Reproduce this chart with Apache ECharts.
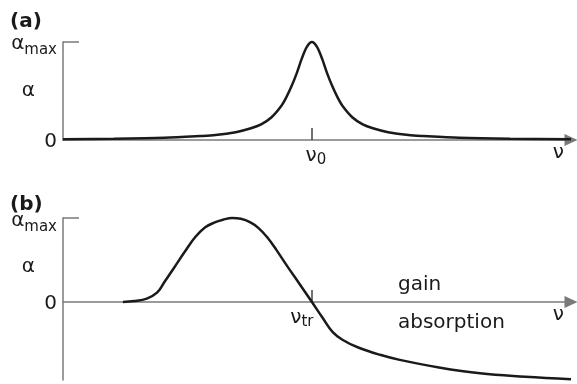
<!DOCTYPE html>
<html><head><meta charset="utf-8">
<script src="https://cdn.jsdelivr.net/npm/echarts@6/dist/echarts.min.js"></script>
<style>html,body{margin:0;padding:0;background:#fff}#c{width:577px;height:384px}</style>
</head><body><div id="c"></div>
<script>
// Panel (a): absorption line around nu0 (frequency in arbitrary units 0..100, alpha normalised to alpha_max)
const xA = [0, 10, 20, 27, 30, 34, 37, 39, 41, 43, 44, 45, 46, 47, 48, 49, 50, 51, 52, 53, 54, 55, 57, 59, 61, 64, 68, 71, 78, 88, 100];
const yA = [0.008, 0.013, 0.023, 0.04, 0.05, 0.08, 0.12, 0.16, 0.23, 0.35, 0.44, 0.55, 0.68, 0.83, 0.95, 1.0, 0.95, 0.83, 0.68, 0.55, 0.44, 0.35, 0.23, 0.16, 0.12, 0.08, 0.05, 0.04, 0.023, 0.013, 0.008];
// Panel (b): gain / absorption curve crossing zero at nu_tr
const xB = [11.8, 14, 16.5, 18.5, 20, 22, 24, 26, 28, 30, 31.5, 33.3, 35, 36.8, 38.5, 40.2, 42, 44.1, 46.5, 49, 51, 53.1, 55, 58, 62.4, 66.3, 74, 82.1, 91, 100];
const yB = [0, 0.01, 0.04, 0.11, 0.24, 0.42, 0.6, 0.77, 0.89, 0.95, 0.98, 1.0, 0.99, 0.95, 0.88, 0.77, 0.62, 0.43, 0.22, 0, -0.18, -0.36, -0.45, -0.54, -0.63, -0.69, -0.78, -0.85, -0.89, -0.92];
// markers / tick labels
const nu0 = 49, nuTr = 49, nuLabelPos = 97.5;
const yLabelsA = [0, 0.5, 1];
const yLabelsB = [0, 0.42, 1];
const yMinB = -0.93;
const panelLabels = ['(a)', '(b)'];
const regionLabels = ['gain', 'absorption'];

const FONT = '"DejaVu Sans", sans-serif';
const AX = '#7a7a7a', INK = '#1a1a1a';
const chart = echarts.init(document.getElementById('c'), null, {renderer: 'canvas'});

function yLab(v) {
  if (v === 0) return '{t|0}';
  if (v === 1) return '{a|α}{s|max}';
  return '{m|α}';
}
function yRich(aPad, sPad) {
  return {
    t: {fontSize: 20, fontFamily: FONT, color: INK, padding: [4, 0, 0, 0]},
    a: {fontSize: 20, fontFamily: FONT, color: INK, padding: [aPad, 0, 0, 0]},
    s: {fontSize: 15, fontFamily: FONT, color: INK, padding: [sPad, 0, 0, 0]},
    m: {fontSize: 20, fontFamily: FONT, color: INK, padding: [0, 22, 0, 0]}
  };
}
function yAxisCfg(min, labels, aPad, sPad) {
  return {
    type: 'value', min: min, max: 1,
    axisLine: {show: true, lineStyle: {color: AX, width: 1.5}},
    axisTick: {show: true, inside: true, length: 16, customValues: [1], lineStyle: {color: AX, width: 1.5}},
    axisLabel: {show: true, margin: 6, customValues: labels, formatter: yLab, rich: yRich(aPad, sPad)},
    splitLine: {show: false}
  };
}
function xAxisCfg(tickVal, sub, nPad, sPad, offset) {
  return {
    type: 'value', min: 0, max: 100, position: 'bottom', offset: offset,
    axisLine: {show: true, onZero: false, symbol: ['none', 'triangle'], symbolSize: [12, 13], lineStyle: {color: AX, width: 1.5}},
    axisTick: {show: true, inside: true, length: 12, customValues: [tickVal], lineStyle: {color: '#444', width: 1.5}},
    axisLabel: {show: true, margin: 3, customValues: [tickVal, nuLabelPos], hideOverlap: false,
      showMinLabel: true, showMaxLabel: true,
      formatter: (v) => v === tickVal ? '{n|ν}{s|' + sub + '}' : '{e|ν}',
      rich: {
        n: {fontSize: 20, fontFamily: FONT, color: INK, padding: nPad},
        s: {fontSize: 15, fontFamily: FONT, color: INK, padding: sPad},
        e: {fontSize: 20, fontFamily: FONT, color: INK}
      }},
    splitLine: {show: false}
  };
}

chart.setOption({
  animation: false,
  backgroundColor: '#fff',
  grid: [
    {left: 63, right: 6, top: 42, height: 98, outerBoundsMode: 'none', containLabel: false},
    {left: 63, right: 6, top: 218, height: 162, outerBoundsMode: 'none', containLabel: false}
  ],
  xAxis: [
    Object.assign(xAxisCfg(nu0, '0', [0, 0, 0, 8], [10, 0, 0, 0], 0), {gridIndex: 0}),
    Object.assign(xAxisCfg(nuTr, 'tr', [0, 0, 0, 0], [10, 20, 0, 0], -Math.round(162 * (0 - yMinB) / (1 - yMinB))), {gridIndex: 1})
  ],
  yAxis: [
    Object.assign(yAxisCfg(0, yLabelsA, 4, 16), {gridIndex: 0}),
    Object.assign(yAxisCfg(yMinB, yLabelsB, 6, 18), {gridIndex: 1})
  ],
  series: [
    {type: 'line', xAxisIndex: 0, yAxisIndex: 0, data: xA.map((x, i) => [x, yA[i]]),
      showSymbol: false, smooth: 0.3, clip: false, lineStyle: {color: INK, width: 2.5}},
    {type: 'line', xAxisIndex: 1, yAxisIndex: 1, data: xB.map((x, i) => [x, yB[i]]),
      showSymbol: false, smooth: 0.4, clip: false, lineStyle: {color: INK, width: 2.5}}
  ],
  graphic: [
    {type: 'text', x: 10, y: 22, style: {text: panelLabels[0], font: 'bold 20px ' + FONT, fill: INK, verticalAlign: 'middle'}},
    {type: 'text', x: 10, y: 205, style: {text: panelLabels[1], font: 'bold 20px ' + FONT, fill: INK, verticalAlign: 'middle'}},
    {type: 'text', x: 398, y: 285, style: {text: regionLabels[0], font: '20px ' + FONT, fill: INK, verticalAlign: 'middle'}},
    {type: 'text', x: 398, y: 323, style: {text: regionLabels[1], font: '20px ' + FONT, fill: INK, verticalAlign: 'middle'}}
  ]
});
</script></body></html>
